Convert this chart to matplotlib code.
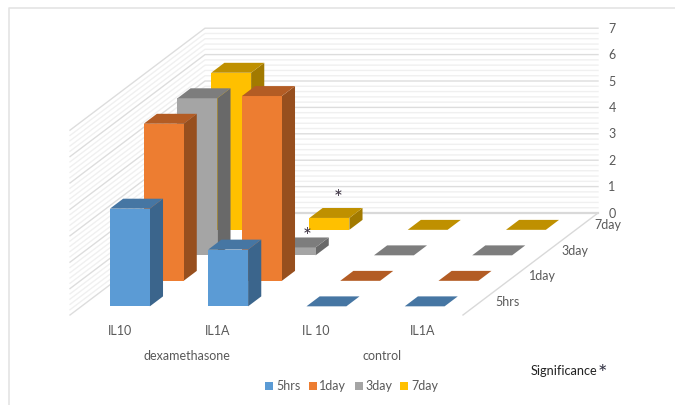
import matplotlib
matplotlib.use("Agg")
import matplotlib.pyplot as plt
from matplotlib.patches import Polygon, Rectangle

categories = ["IL10", "IL1A", "IL 10", "IL1A"]
groups = ["dexamethasone", "control"]
series_names = ["5hrs", "1day", "3day", "7day"]
hrs5 = [3.7, 2.15, 0, 0]
day1 = [5.95, 7.0, 0, 0]
day3 = [5.95, 0.3, 0, 0]
day7 = [5.95, 0.45, 0, 0]
z_ticks = [0, 1, 2, 3, 4, 5, 6, 7]

front = ["#5B9BD5", "#ED7D31", "#A5A5A5", "#FFC000"]
top = ["#4676A3", "#B35C24", "#7D7D7D", "#BF9000"]
side = ["#3B658C", "#974F1E", "#696969", "#A27A00"]

plt.rcParams["font.family"] = ["Lato", "DejaVu Sans"]
TXT = "#595959"

fig = plt.figure(figsize=(6.75, 4.05), dpi=100)
ax = fig.add_axes([0, 0, 1, 1])
ax.set_xlim(0, 675)
ax.set_ylim(405, 0)
ax.axis("off")


def P(u, v, z=0):
    return (70 + 98.25 * u + 33.75 * v, 315 - 25.5 * v - 26.4 * z)


# outer frame
ax.plot([9, 9, 675], [405, 8, 8], color="#E4E4E4", lw=1.2, zorder=1)

# walls
nz = len(z_ticks) - 1
for k in range(nz * 5 + 1):
    z = k / 5
    major = k % 5 == 0
    col = "#DDDDDD" if major else "#F0F0F0"
    pts = [P(0, 0, z), P(0, 4, z), P(4, 4, z)]
    ax.plot([p[0] for p in pts], [p[1] for p in pts], color=col, lw=1.0, zorder=3 if major else 2)
a, b = P(4, 0), P(4, 4)
ax.plot([a[0], b[0]], [a[1], b[1]], color="#D9D9D9", lw=1.0, zorder=3)
ax.plot([b[0] - 393, b[0]], [b[1], b[1]], color="#D9D9D9", lw=1.6, zorder=3)

# bars
U0, UW, V0, VD = 0.29, 0.406, 0.34, 0.39
values = [hrs5, day1, day3, day7]
order = 10
for s in range(3, -1, -1):
    for c in range(4):
        val = values[s][c]
        u1, u2 = c + U0, c + U0 + UW
        v1, v2 = s + V0, s + V0 + VD
        kw = dict(closed=True, edgecolor="none", zorder=order)
        if val > 0:
            ax.add_patch(Polygon([P(u2, v1), P(u2, v2), P(u2, v2, val), P(u2, v1, val)], facecolor=side[s], **kw))
            ax.add_patch(Polygon([P(u1, v1), P(u2, v1), P(u2, v1, val), P(u1, v1, val)], facecolor=front[s], **kw))
        ax.add_patch(Polygon([P(u1, v1, val), P(u2, v1, val), P(u2, v2, val), P(u1, v2, val)], facecolor=top[s], **kw))
        order += 1

# value ticks
for z in z_ticks:
    ax.text(612, P(4, 4, z)[1] + 0.5, str(z), color=TXT, fontsize=9, ha="center", va="center", zorder=50)

# series labels
for name, x, y in zip(series_names, [507, 542, 575, 608], [302, 276, 251, 225]):
    ax.text(x, y, name, color=TXT, fontsize=9, ha="center", va="center", zorder=50)

# category labels
for name, x in zip(categories, [120, 218, 316, 423]):
    ax.text(x, 331, name, color=TXT, fontsize=9, ha="center", va="center", zorder=50)
for name, x in zip(groups, [187, 382]):
    ax.text(x, 356, name, color=TXT, fontsize=9, ha="center", va="center", zorder=50)

# significance marks
ax.text(338.5, 199, "*", color="#3A3040", fontsize=15, ha="center", va="center", zorder=50)
ax.text(307, 237, "*", color="#3A3040", fontsize=15, ha="center", va="center", zorder=50)
ax.text(531, 371, "Significance", color="#222222", fontsize=9.2, ha="left", va="center", zorder=50)
ax.text(602.5, 374, "*", color="#333344", fontsize=16, ha="center", va="center", zorder=50)

# legend
for name, col, xs, xt in zip(series_names, front, [265, 309, 355, 400], [276, 319, 365, 411]):
    ax.add_patch(Rectangle((xs, 382), 8, 8, facecolor=col, edgecolor="none", zorder=50))
    ax.text(xt, 386, name, color=TXT, fontsize=9, ha="left", va="center", zorder=50)

fig.savefig("out.png", dpi=100)
